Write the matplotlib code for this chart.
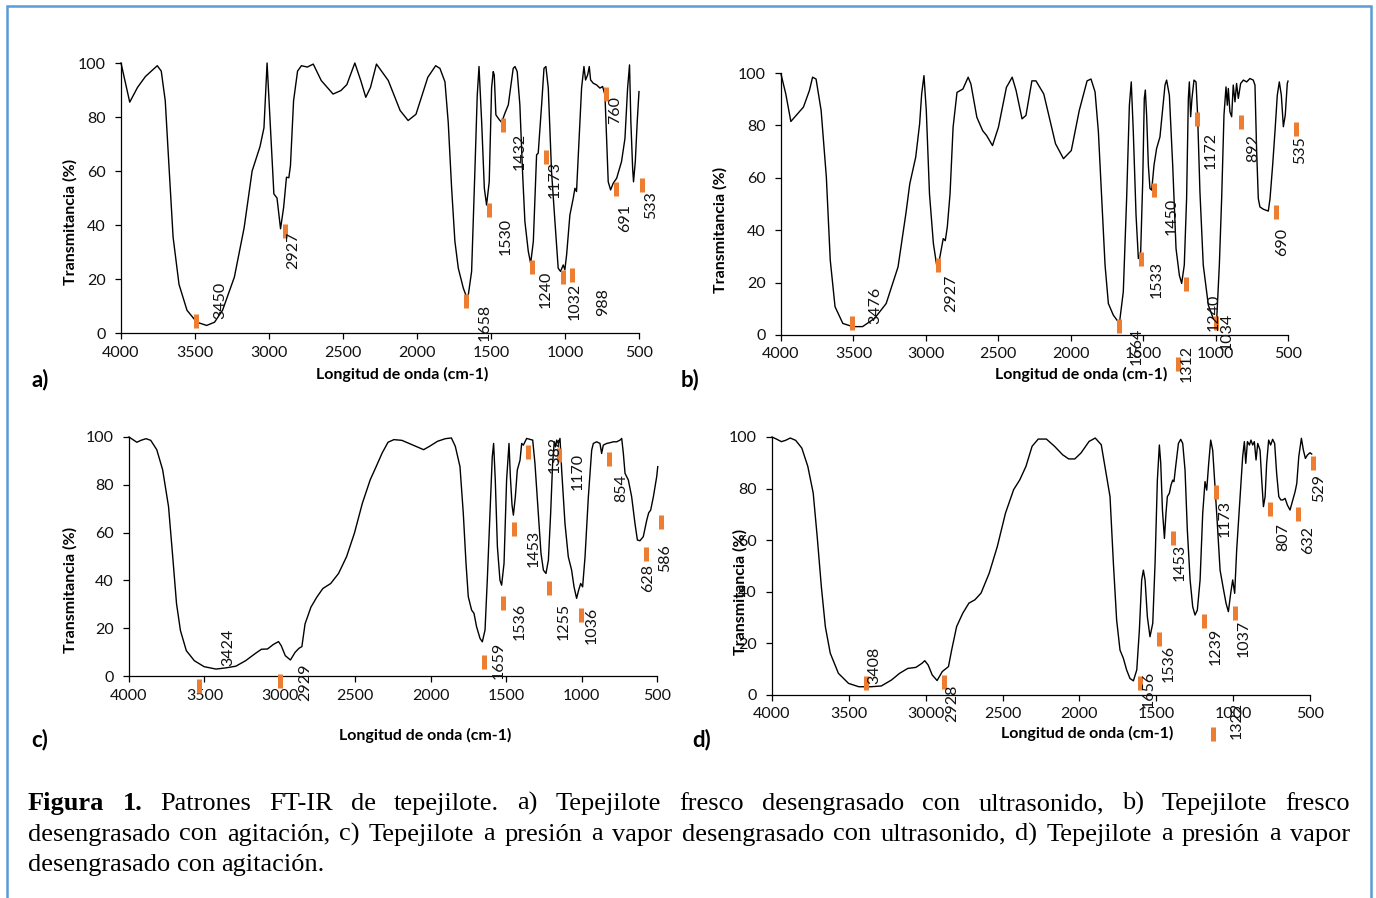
import matplotlib
matplotlib.use("Agg")
import matplotlib.pyplot as plt
from matplotlib.patches import Rectangle

W, H = 1376, 898

# ---------------- data: panel a ----------------
wn_a = [4000, 3941, 3888, 3835, 3755, 3728, 3701, 3675, 3648, 3608, 3554, 3488, 3421, 3368, 3314, 3234, 3168,
        3114, 3061, 3034, 3013, 2994, 2967, 2946, 2922, 2901, 2882, 2866, 2855, 2834, 2807, 2781, 2741, 2701,
        2647, 2567, 2514, 2474, 2420, 2380, 2346, 2314, 2274, 2194, 2114, 2060, 2007, 1927, 1874, 1845, 1811,
        1789, 1766, 1744, 1721, 1687, 1658, 1631, 1609, 1593, 1581, 1563, 1545, 1530, 1512, 1496, 1485, 1478,
        1467, 1444, 1428, 1406, 1383, 1368, 1350, 1338, 1323, 1305, 1287, 1271, 1248, 1232, 1214, 1192, 1181,
        1158, 1142, 1129, 1113, 1091, 1068, 1046, 1030, 1012, 1001, 989, 967, 944, 933, 922, 910, 888, 872,
        861, 847, 836, 827, 809, 787, 764, 746, 730, 719, 708, 692, 674, 651, 618, 595, 577, 564, 555, 543,
        537, 525, 512, 500]
t_a = [100, 85.5, 91, 95, 99, 97, 86, 61, 35.5, 18, 8.4, 4, 2.8, 4, 8.4, 20.7, 39,
       60, 69, 76, 100, 80, 51.5, 50, 38.6, 46.6, 57.7, 57.5, 62, 86, 97, 99, 98.5, 99.6,
       93.5, 88.5, 89.8, 92, 100, 93.5, 87.3, 91, 99.6, 93.5, 82.4, 78.7, 81, 94.7, 99, 98, 93,
       78, 53.6, 34, 24, 16.6, 12.3, 22.8, 59.8, 88, 98.7, 78, 53.6, 47.4, 56, 90.7, 96.8, 95.6,
       80.8, 79, 78, 81.4, 84.5, 90.7, 98, 98.7, 96.8, 84.5, 59.8, 41.3, 30.2, 25.8, 33.9, 66, 66.6,
       84.5, 98, 98.7, 90.7, 59.8, 41.3, 24, 22.8, 25.2, 23.4, 29, 43.7, 50, 53.6, 52.4, 66, 90.7, 98.7,
       93.7, 95.6, 98.7, 93.7, 92.5, 91.9, 90.7, 91.3, 88.2, 72.1, 56, 53, 55.5, 57.3, 63.5, 72, 90.7, 99.3, 78.3, 61,
       56, 63.5, 78.3, 89.4]
mk_wn_a = [3493, 2893, 1672, 1514, 1417, 1221, 1131, 1012, 953, 724, 656, 480]
mk_t_a = [4.3, 37.6, 11.9, 45.6, 77, 24.4, 65.3, 20.9, 21.5, 88.4, 53.4, 54.9]
lb_a = ['3450', '2927', '1658', '1530', '1432', '1240', '1173', '1032', '988', '760', '691', '533']
lb_wn_a = [3328, 2834, 1541, 1399, 1305, 1129, 1068, 933, 742, 663, 595, 420]
lb_t_a = [12, 30.6, 4, 35.7, 67.2, 16, 56.7, 11.6, 11.6, 82.6, 42.5, 47.2]

# ---------------- data: panel b ----------------
wn_b = [4000, 3967, 3932, 3886, 3845, 3804, 3782, 3758, 3723, 3687, 3660, 3627, 3573, 3505, 3437, 3355, 3274,
        3192, 3138, 3111, 3070, 3043, 3029, 3013, 2997, 2975, 2948, 2920, 2899, 2880, 2866, 2852, 2833, 2812,
        2785, 2744, 2708, 2689, 2648, 2608, 2580, 2540, 2499, 2444, 2404, 2377, 2336, 2309, 2268, 2240, 2186,
        2105, 2050, 1996, 1941, 1887, 1860, 1832, 1809, 1786, 1763, 1740, 1706, 1664, 1637, 1614, 1595, 1582,
        1568, 1549, 1533, 1517, 1503, 1492, 1485, 1476, 1464, 1453, 1441, 1425, 1407, 1384, 1365, 1349, 1338,
        1319, 1296, 1273, 1250, 1234, 1216, 1200, 1188, 1181, 1172, 1163, 1149, 1135, 1124, 1108, 1085, 1050,
        1016, 993, 974, 958, 942, 928, 919, 912, 901, 889, 878, 866, 855, 843, 827, 808, 785, 763, 740, 728,
        717, 705, 694, 670, 636, 624, 606, 590, 574, 560, 546, 532, 519, 505, 500]
t_b = [99.6, 92, 81.5, 84.4, 87, 93.3, 98.4, 97.7, 85.7, 60.3, 28.6, 10.8, 4.4, 3.2, 3.2, 6.3, 12,
       26, 46.3, 57.7, 67.9, 80.6, 92, 99, 85.7, 53.9, 34.9, 24.7, 31, 36.8, 36, 41.2, 53.9, 79.3,
       92.6, 93.9, 98.4, 95.8, 83.1, 78, 76.1, 72.3, 79.3, 94.5, 98.4, 93.3, 82.5, 83.8, 97, 97, 92,
       73, 67.3, 70.4, 85.7, 97, 97.7, 92.8, 77.6, 52.1, 26.7, 12, 7.6, 4.4, 16.5, 52.1, 87.7, 96.6,
       77.6, 45.7, 29.2, 31.8, 58.5, 90.3, 93.5, 83.9, 64.8, 55.9, 55.3, 64.8, 71.2, 75.6, 86.5, 95.4, 97.3,
       91.5, 64.8, 33, 22.8, 19.7, 26.7, 52.1, 90.3, 96.6, 83.3, 90.3, 97.3, 96.6, 83.9, 54.7, 26.7, 11.4,
       6.3, 5, 26.7, 52.1, 83.9, 94.7, 87.7, 94.1, 85.2, 83.3, 95.4, 89, 96, 90.3, 96, 97.3, 96.6, 97.9, 97.3, 95.4,
       71.2, 52.1, 48.9, 48, 47.3, 52.1, 64.8, 77.6, 91.5, 96.6, 91.5, 79.5, 83.9, 96, 96.9]
mk_wn_b = [3513, 2918, 1664, 1513, 1428, 1261, 1207, 999, 1126, 825, 583, 445]
mk_t_b = [4.4, 26.6, 3.4, 29, 55.3, -11, 19.4, 4.4, 82.6, 81.4, 47, 78.6]
lb_b = ['3476', '2927', '1664', '1533', '1450', '1312', '1240', '1034', '1172', '892', '690', '535']
lb_wn_b = [3347, 2825, 1547, 1407, 1303, 1200, 1016, 924, 1034, 740, 544, 418]
lb_t_b = [11.4, 15.9, -4.4, 21, 45.1, -11, 8.8, 1.2, 70.6, 71.2, 35.6, 70.4]

# ---------------- data: panel c ----------------
wn_c = [4000, 3974, 3948, 3921, 3887, 3856, 3816, 3777, 3738, 3712, 3685, 3659, 3620, 3567, 3502, 3423, 3358,
        3292, 3227, 3161, 3122, 3082, 3043, 3009, 2991, 2964, 2930, 2899, 2873, 2854, 2833, 2794, 2755, 2715,
        2663, 2611, 2558, 2506, 2453, 2401, 2361, 2322, 2283, 2244, 2191, 2139, 2086, 2047, 2008, 1955, 1903,
        1863, 1837, 1806, 1784, 1766, 1751, 1729, 1713, 1696, 1673, 1658, 1640, 1625, 1607, 1592, 1583, 1572,
        1558, 1541, 1530, 1514, 1497, 1481, 1472, 1461, 1452, 1439, 1426, 1408, 1397, 1386, 1364, 1342, 1324,
        1309, 1287, 1269, 1253, 1236, 1220, 1205, 1192, 1181, 1172, 1165, 1154, 1143, 1132, 1110, 1088, 1066,
        1050, 1033, 1019, 1006, 993, 977, 955, 933, 922, 900, 878, 867, 856, 834, 812, 789, 767, 745, 734,
        723, 712, 690, 668, 646, 630, 613, 591, 568, 555, 542, 524, 502, 495]
t_c = [100, 98.9, 97.8, 98.6, 99.3, 98.6, 94.7, 86.3, 70.9, 51.3, 30.3, 19, 10.6, 6.4, 3.9, 2.9, 3.4,
       4.1, 6.4, 9.5, 11.2, 11.3, 13.2, 14.4, 12.7, 8.5, 6.7, 9.9, 11.6, 12.3, 21.8, 28.8, 33, 36.6,
       38.7, 42.9, 49.9, 59.7, 72.3, 82.1, 87.7, 93.3, 97.8, 98.9, 98.6, 97.2, 95.8, 94.7, 96.1, 98.2, 99.3,
       99.6, 96.1, 87.6, 68, 47.1, 33.2, 27.6, 26.2, 20.6, 15.7, 14.3, 19.2, 40.1, 68, 91.7, 97.3, 82,
       54.1, 40.1, 38, 47.1, 82, 97.3, 83.4, 71.5, 67.3, 75, 86.2, 90.3, 97.3, 96.6, 99.4, 99, 98.7,
       88.9, 68, 51.3, 44.3, 42.9, 48.5, 68, 88.9, 98, 95.9, 98.7, 97.3, 99.4, 86.2, 63.8, 49.9, 44.3,
       37.3, 32.5, 36, 38.7, 37.3, 49.9, 75, 94.5, 97.3, 98, 97.3, 93.1, 96.6, 97.3, 97.6, 98, 98, 98.7, 99.4,
       93.1, 84.8, 82, 75, 63.8, 56.9, 56.6, 58.3, 65.2, 68.3, 69.4, 75, 83.4, 87.6]
mk_wn_c = [3533, 3000, 1645, 1523, 1446, 1355, 1147, 1214, 1004, 816, 575, 476]
mk_t_c = [-4.1, -2, 6, 30.4, 61.5, 93.8, 92.4, 36.7, 25.5, 91, 50.9, 64.5]
lb_c = ['3424', '2929', '1659', '1536', '1453', '1382', '1170', '1255', '1036', '854', '628', '586']
lb_wn_c = [3345, 2833, 1547, 1413, 1315, 1176, 1028, 1116, 933, 734, 557, 448]
lb_t_c = [12, -2.7, 6.7, 22.7, 53.4, 92.5, 85.5, 22.7, 21.3, 78.5, 40.8, 49.2]

# ---------------- data: panel d ----------------
wn_d = [4000, 3971, 3939, 3912, 3881, 3846, 3806, 3767, 3732, 3706, 3679, 3653, 3621, 3568, 3502, 3435, 3356,
        3289, 3223, 3170, 3117, 3064, 3024, 3006, 2984, 2958, 2926, 2892, 2852, 2831, 2799, 2759, 2719, 2680,
        2640, 2587, 2534, 2481, 2428, 2388, 2348, 2308, 2268, 2215, 2162, 2109, 2070, 2030, 1990, 1937, 1897,
        1858, 1801, 1779, 1758, 1736, 1714, 1693, 1671, 1649, 1627, 1610, 1595, 1584, 1573, 1558, 1541, 1523,
        1508, 1493, 1480, 1471, 1460, 1447, 1437, 1428, 1415, 1404, 1393, 1385, 1374, 1356, 1341, 1328, 1313,
        1298, 1280, 1263, 1248, 1233, 1215, 1198, 1183, 1172, 1159, 1146, 1133, 1118, 1103, 1085, 1064, 1046,
        1031, 1016, 1003, 990, 977, 955, 938, 927, 918, 907, 894, 884, 873, 862, 851, 840, 825, 814, 803, 792,
        782, 769, 756, 743, 730, 717, 703, 690, 677, 662, 647, 630, 612, 597, 586, 573, 556, 543, 530, 517,
        500, 489]
t_d = [100, 99.2, 98.2, 98.7, 99.6, 98.7, 95.7, 88.6, 78.3, 61.4, 42, 26.5, 16.2, 8.4, 4.5, 3.2, 3.2,
       3.5, 5.8, 8.4, 10.3, 10.7, 12.3, 13.3, 11.6, 7.8, 5.6, 9.1, 11, 17.5, 26.5, 31.7, 35.6, 36.9,
       39.5, 47.2, 57.6, 70.5, 79.6, 83.4, 88.6, 96.4, 99.2, 99.2, 96.4, 93.1, 91.5, 91.5, 93.8, 98.3, 99.6,
       97, 76.9, 51, 29.1, 17.4, 14.2, 9.7, 6.4, 5.5, 9.7, 25.2, 44.6, 48.4, 44.6, 30.3, 22.6, 27.8,
       51, 83.3, 96.9, 89.8, 71.7, 60.7, 70.4, 76.9, 78.2, 81.4, 83.3, 82.7, 88.5, 97.5, 99.1, 97.5, 87.2,
       63.9, 44.6, 34.2, 31, 32.9, 44.6, 70.4, 82.7, 79.4, 89.8, 98.8, 94.9, 80.7, 66.5, 48.4, 41.3, 35.5,
       32.3, 39.4, 44.6, 39.4, 56.2, 76.9, 92.4, 98.2, 89.8, 98.2, 96.9, 98.8, 96.9, 98.2, 91.1, 97.5, 94.9, 83.3, 73, 76.9,
       89.8, 98.8, 96.9, 99.1, 97.5, 85.9, 76.9, 75.6, 75.6, 76.2, 73.6, 71.7, 75.6, 78.8, 82, 92.4, 99.5, 94.9, 91.7, 93,
       93.9, 93.4]
mk_wn_d = [3387, 2878, 1606, 1480, 1393, 1187, 1113, 985, 1131, 760, 576, 478]
mk_t_d = [4.5, 4.9, 4.5, 21.6, 60.7, 28.8, 78.8, 31.6, -15.1, 72, 70.1, 89.8]
lb_d = ['3408', '2928', '1656', '1536', '1453', '1239', '1173', '1037', '1322', '807', '632', '529']
lb_wn_d = [3337, 2825, 1547, 1421, 1346, 1111, 1053, 933, 975, 673, 510, 439]
lb_t_d = [11.4, -3.2, 2, 12.3, 51.3, 18.7, 68.5, 21.9, -9.7, 61.4, 60.1, 80.2]

x_ticks = [4000, 3500, 3000, 2500, 2000, 1500, 1000, 500]
y_ticks = [0, 20, 40, 60, 80, 100]
x_title = 'Longitud de onda (cm-1)'
y_title = 'Transmitancia (%)'
panel_names = ['a)', 'b)', 'c)', 'd)']

caption_lines = [
    [('Figura', 'bold'), ('1.', 'bold'), ('Patrones', 'normal'), ('FT-IR', 'normal'), ('de', 'normal'),
     ('tepejilote.', 'normal'), ('a)', 'normal'), ('Tepejilote', 'normal'), ('fresco', 'normal'),
     ('desengrasado', 'normal'), ('con', 'normal'), ('ultrasonido,', 'normal'), ('b)', 'normal'),
     ('Tepejilote', 'normal'), ('fresco', 'normal')],
    [(w, 'normal') for w in 'desengrasado con agitación, c) Tepejilote a presión a vapor desengrasado con ultrasonido, d) Tepejilote a presión a vapor'.split()],
    [(w, 'normal') for w in 'desengrasado con agitación.'.split()],
]

# ---------------- layout (pixels) ----------------
panels = [
    dict(wn=wn_a, t=t_a, mw=mk_wn_a, mt=mk_t_a, lb=lb_a, lw=lb_wn_a, lt=lb_t_a,
         box=(121, 639, 63, 333), xl=(402, 374), yl=(70, 222), pl=(40, 380)),
    dict(wn=wn_b, t=t_b, mw=mk_wn_b, mt=mk_t_b, lb=lb_b, lw=lb_wn_b, lt=lb_t_b,
         box=(781, 1288, 73, 335), xl=(1081, 374), yl=(720, 230), pl=(690, 380)),
    dict(wn=wn_c, t=t_c, mw=mk_wn_c, mt=mk_t_c, lb=lb_c, lw=lb_wn_c, lt=lb_t_c,
         box=(129, 657, 437, 676), xl=(425, 735), yl=(70, 590), pl=(40, 740)),
    dict(wn=wn_d, t=t_d, mw=mk_wn_d, mt=mk_t_d, lb=lb_d, lw=lb_wn_d, lt=lb_t_d,
         box=(772, 1310, 437, 695), xl=(1087, 733), yl=(740, 592), pl=(702, 740)),
]

SANS = ['Lato', 'DejaVu Sans']
SERIF = ['Liberation Serif', 'DejaVu Serif']
ORANGE = '#ED7D31'


def fx(x):
    return x / W


def fy(y):
    return 1 - y / H


fig = plt.figure(figsize=(W / 100, H / 100), dpi=100)
fig.patch.set_facecolor('white')

for i, p in enumerate(panels):
    assert len(p['wn']) == len(p['t']), (i, len(p['wn']), len(p['t']))
    x0, x1, y0, y1 = p['box']
    ax = fig.add_axes([fx(x0), fy(y1), (x1 - x0) / W, (y1 - y0) / H])
    ax.patch.set_alpha(0)
    ax.plot(p['wn'], p['t'], color='black', lw=1.0, clip_on=False, zorder=3)
    ax.plot(p['mw'], p['mt'], ls='none', marker='|', ms=10, mew=3.6, color=ORANGE,
            clip_on=False, zorder=4)
    for s, xw, yt in zip(p['lb'], p['lw'], p['lt']):
        ax.text(xw, yt, s, rotation=90, ha='center', va='center', fontsize=11.5,
                family=SANS, color='#111111', clip_on=False, zorder=5)
    ax.set_xlim(4000, 500)
    ax.set_ylim(0, 100)
    ax.set_xticks(x_ticks)
    ax.set_yticks(y_ticks)
    ax.set_xticklabels([str(v) for v in x_ticks], family=SANS)
    ax.set_yticklabels([str(v) for v in y_ticks], family=SANS)
    for s in ('top', 'right'):
        ax.spines[s].set_visible(False)
    for s in ('left', 'bottom'):
        ax.spines[s].set_linewidth(0.9)
        ax.spines[s].set_color('black')
    ax.tick_params(direction='out', length=4, width=0.9, labelsize=11.5,
                   colors='black', labelcolor='#111111')
    ax.tick_params(axis='x', pad=5)
    ax.tick_params(axis='y', pad=7)
    fig.text(fx(p['xl'][0]), fy(p['xl'][1]), x_title, ha='center', va='center',
             fontsize=11.5, weight='bold', family=SANS)
    fig.text(fx(p['yl'][0]), fy(p['yl'][1]), y_title, ha='center', va='center',
             rotation=90, fontsize=11.5, weight='bold', family=SANS)
    fig.text(fx(p['pl'][0]), fy(p['pl'][1]), panel_names[i], ha='center', va='center',
             fontsize=16, weight='bold', family=SANS)

# border
fig.add_artist(Rectangle((fx(7), fy(905)), (1371 - 7) / W, (905 - 6) / H, fill=False,
                         edgecolor='#5B9BD5', lw=1.8, transform=fig.transFigure))

# caption (justified)
renderer = fig.canvas.get_renderer()
CAP_FS = 19
left, right = 28, 1350
baselines = [810, 840.5, 871]
for li, (words, yb) in enumerate(zip(caption_lines, baselines)):
    arts = []
    widths = []
    for w_, wt in words:
        t = fig.text(0, fy(yb), w_, fontsize=CAP_FS, family=SERIF, weight=wt, va='baseline', ha='left')
        widths.append(t.get_window_extent(renderer).width)
        arts.append(t)
    if li < len(caption_lines) - 1:
        gap = (right - left - sum(widths)) / (len(words) - 1)
    else:
        sp = fig.text(0, 0, 'a a', fontsize=CAP_FS, family=SERIF)
        sp2 = fig.text(0, 0, 'aa', fontsize=CAP_FS, family=SERIF)
        gap = sp.get_window_extent(renderer).width - sp2.get_window_extent(renderer).width
        sp.remove()
        sp2.remove()
    x = left
    for t, wd in zip(arts, widths):
        t.set_x(fx(x))
        x += wd + gap

fig.savefig('out.png', dpi=100)
